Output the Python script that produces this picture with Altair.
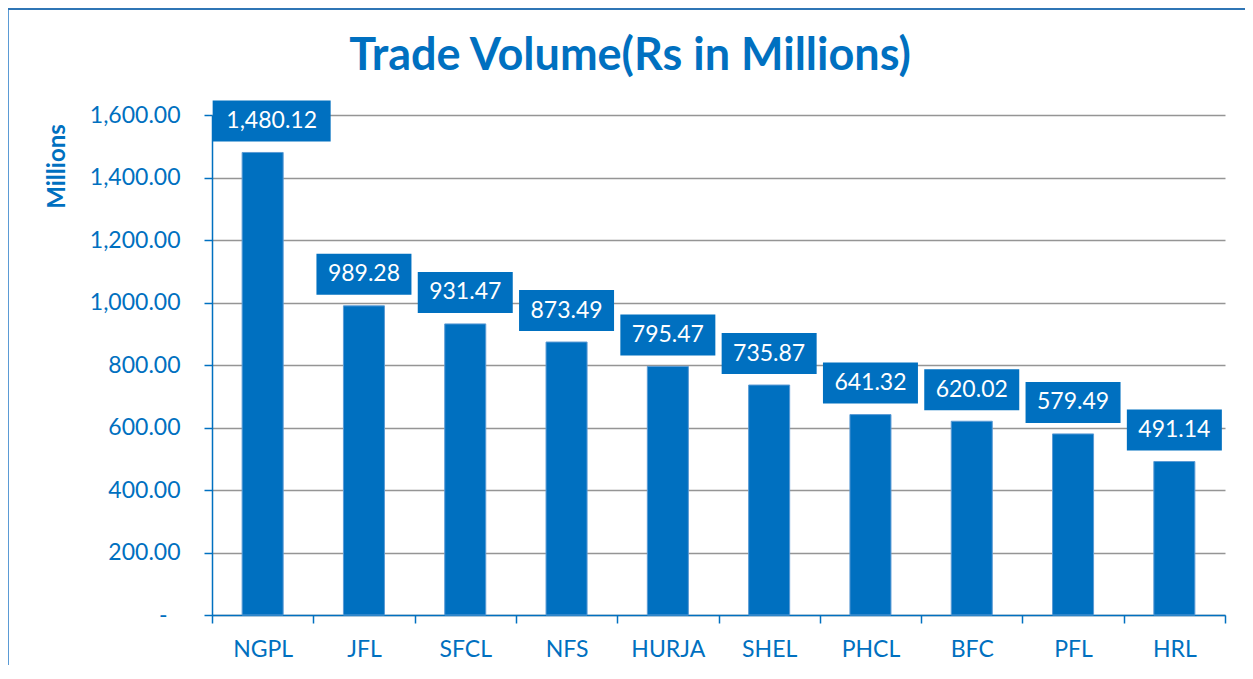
import altair as alt
import pandas as pd

companies = ["NGPL", "JFL", "SFCL", "NFS", "HURJA", "SHEL", "PHCL", "BFC", "PFL", "HRL"]
volumes = [1480.12, 989.28, 931.47, 873.49, 795.47, 735.87, 641.32, 620.02, 579.49, 491.14]
y_ticks = [0, 200, 400, 600, 800, 1000, 1200, 1400, 1600]
chart_title = "Trade Volume(Rs in Millions)"

BLUE = "#0070C0"
FONT = "Lato"

df = pd.DataFrame({"company": companies, "volume": volumes})

base = alt.Chart(df)

x_enc = alt.X(
    "company:N",
    sort=companies,
    title=None,
    scale=alt.Scale(paddingInner=0, paddingOuter=0),
    axis=alt.Axis(
        labelAngle=0,
        labelFont=FONT,
        labelFontSize=23,
        labelColor=BLUE,
        labelPadding=15,
        domainColor=BLUE,
        domainWidth=1.5,
        tickColor=BLUE,
        tickSize=8,
        tickWidth=1.5,
        tickBand="extent",
        grid=False,
    ),
)

y_enc = alt.Y(
    "volume:Q",
    scale=alt.Scale(domain=[0, 1600], nice=False),
    title="Millions",
    axis=alt.Axis(
        values=y_ticks,
        labelExpr="datum.value == 0 ? '-' : format(datum.value, ',.2f')",
        labelFont=FONT,
        labelFontSize=23,
        labelColor=BLUE,
        labelPadding={"condition": {"test": "datum.value == 0", "value": 37}, "value": 24},
        labelBaseline="middle",
        domainColor=BLUE,
        domainWidth=1.5,
        tickColor=BLUE,
        tickSize=8,
        tickWidth=1.5,
        gridColor="#959595",
        gridWidth=1.5,
        titleFont=FONT,
        titleFontSize=24,
        titleFontWeight="bold",
        titleColor=BLUE,
        titleAngle=-90,
        titleAlign="center",
        titleBaseline="middle",
        titleX=-155,
        titleY=51,
    ),
)

bars = base.mark_bar(
    color=BLUE, stroke="#5B9BD5", strokeWidth=1, width=alt.RelativeBandSize(0.405)
).encode(x=x_enc, y=y_enc)

labels_base = base.transform_calculate(
    label="format(datum.volume, ',.2f')"
).transform_calculate(
    boxw="length(datum.label) * 11.5 + 26",
    box_lo="datum.volume + 11 * 3.2",
    box_hi="datum.volume + 52 * 3.2",
    shift="50.65 + (datum.company == 'NGPL' ? 9 : 0)",
)

boxes = labels_base.mark_bar(color=BLUE).encode(
    x=alt.X("company:N", sort=companies),
    xOffset=alt.XOffset("shift:Q", scale=None),
    y=alt.Y("box_hi:Q"),
    y2="box_lo:Q",
    size=alt.Size("boxw:Q", scale=None, legend=None),
)

texts = labels_base.mark_text(
    color="white", font=FONT, fontSize=23, baseline="middle", align="center", dy=-31.5
).encode(
    x=alt.X("company:N", sort=companies),
    xOffset=alt.XOffset("shift:Q", scale=None),
    y=alt.Y("volume:Q"),
    text="label:N",
)

frame_df = pd.DataFrame({"k": [0]})
left_border = alt.Chart(frame_df).mark_rule(color="#5B9BD5", strokeWidth=2).encode(
    x=alt.value(-204), y=alt.value(-107), y2=alt.value(560)
)
top_border = alt.Chart(frame_df).mark_rule(color="#2F75B5", strokeWidth=2).encode(
    x=alt.value(-204), x2=alt.value(1040), y=alt.value(-106)
)
title_mark = alt.Chart(pd.DataFrame({"t": [chart_title]})).mark_text(
    font=FONT, fontSize=45, fontWeight="bold", color=BLUE,
    align="center", baseline="alphabetic",
).encode(x=alt.value(418), y=alt.value(-45), text="t:N")

chart = alt.layer(bars, boxes, texts, left_border, top_border, title_mark).properties(
    width=1013,
    height=500,
    autosize=alt.AutoSizeParams(type="none"),
    padding={"left": 204, "top": 107, "right": 20, "bottom": 50},
).configure_view(stroke=None)

chart.save("out.html", embed_options={"renderer": "svg", "actions": False})
